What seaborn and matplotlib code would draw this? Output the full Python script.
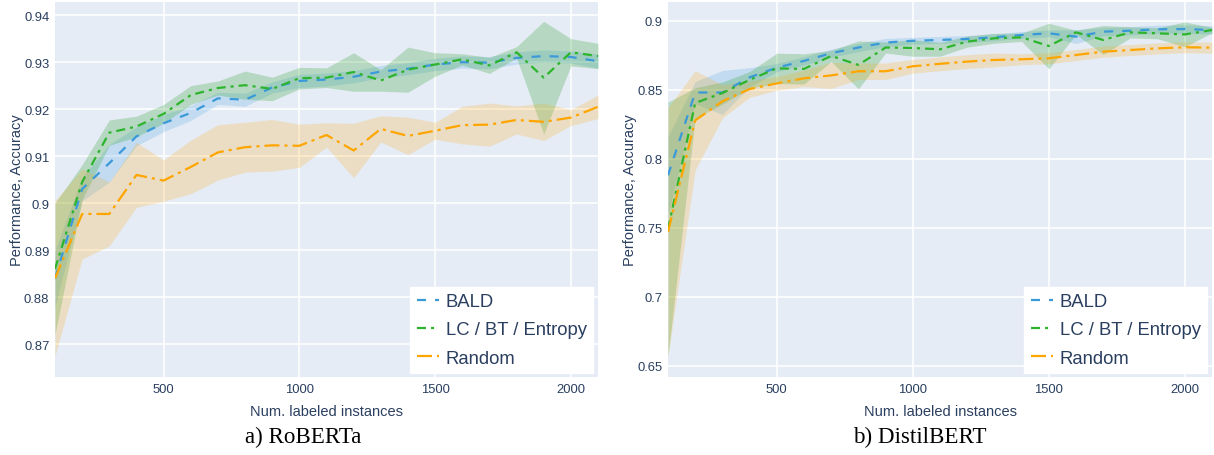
import matplotlib
matplotlib.use("Agg")
import matplotlib.pyplot as plt
import numpy as np
import pandas as pd
import seaborn as sns

# ---- data -------------------------------------------------------------
labeled = [100, 200, 300, 400, 500, 600, 700, 800, 900, 1000, 1100,
           1200, 1300, 1400, 1500, 1600, 1700, 1800, 1900, 2000, 2100]

strategies = ["BALD", "LC / BT / Entropy", "Random"]

# RoBERTa: mean accuracy and standard deviation
bald_roberta = [0.884, 0.903, 0.9085, 0.9142, 0.917, 0.9192, 0.9223, 0.922, 0.9246, 0.926, 0.9263,
                0.9269, 0.928, 0.9286, 0.9295, 0.930, 0.9299, 0.9309, 0.9313, 0.9311, 0.9302]
bald_roberta_sd = [0.006, 0.0025, 0.004, 0.002, 0.0018, 0.0016, 0.0013, 0.0014, 0.0012, 0.0014, 0.0014,
                   0.0013, 0.0013, 0.0013, 0.0013, 0.0013, 0.0013, 0.0013, 0.0013, 0.0013, 0.0015]
lc_roberta = [0.886, 0.9045, 0.915, 0.9163, 0.919, 0.923, 0.9245, 0.9251, 0.9243, 0.9266, 0.9267,
              0.9279, 0.9261, 0.9284, 0.9295, 0.9306, 0.9293, 0.9321, 0.9267, 0.9321, 0.9313]
lc_roberta_sd = [0.014, 0.0037, 0.0027, 0.0022, 0.002, 0.002, 0.0015, 0.003, 0.0025, 0.0023, 0.0021,
                 0.0041, 0.0023, 0.0048, 0.0025, 0.0012, 0.0017, 0.0012, 0.012, 0.0029, 0.0027]
random_roberta = [0.884, 0.8977, 0.8977, 0.906, 0.9048, 0.9077, 0.9108, 0.9119, 0.9123, 0.9122, 0.9145,
                  0.9112, 0.9158, 0.9143, 0.9154, 0.9166, 0.9167, 0.9177, 0.9173, 0.9182, 0.9205]
random_roberta_sd = [0.0165, 0.0096, 0.0068, 0.0069, 0.0044, 0.0057, 0.0059, 0.0053, 0.0055, 0.0046, 0.0026,
                     0.0058, 0.0028, 0.004, 0.0018, 0.004, 0.0046, 0.003, 0.004, 0.0017, 0.0025]

# DistilBERT: mean accuracy and standard deviation
bald_distil = [0.788, 0.848, 0.848, 0.859, 0.866, 0.8709, 0.8765, 0.8806, 0.8842, 0.8855, 0.8861,
               0.8868, 0.888, 0.8897, 0.8909, 0.8885, 0.8921, 0.8928, 0.8938, 0.894, 0.8933]
bald_distil_sd = [0.028, 0.008, 0.016, 0.007, 0.003, 0.003, 0.003, 0.003, 0.003, 0.0025, 0.0025,
                  0.0025, 0.0025, 0.0025, 0.0025, 0.005, 0.003, 0.003, 0.003, 0.003, 0.003]
lc_distil = [0.749, 0.8404, 0.8476, 0.8572, 0.8655, 0.8651, 0.8745, 0.868, 0.8806, 0.8803, 0.8793,
             0.8849, 0.8873, 0.888, 0.8817, 0.8916, 0.8861, 0.8916, 0.8909, 0.8901, 0.8933]
lc_distil_sd = [0.092, 0.011, 0.008, 0.006, 0.011, 0.011, 0.004, 0.0174, 0.004, 0.006, 0.005,
                0.004, 0.0036, 0.003, 0.0165, 0.0015, 0.0105, 0.004, 0.004, 0.009, 0.002]
random_distil = [0.747, 0.8278, 0.8416, 0.8505, 0.8546, 0.8583, 0.8604, 0.8634, 0.8634, 0.867, 0.8688,
                 0.8704, 0.8716, 0.8721, 0.8728, 0.8752, 0.8776, 0.8788, 0.88, 0.8808, 0.8805]
random_distil_sd = [0.09, 0.036, 0.012, 0.006, 0.005, 0.006, 0.0095, 0.006, 0.006, 0.005, 0.005,
                    0.005, 0.005, 0.004, 0.004, 0.004, 0.004, 0.004, 0.004, 0.004, 0.004]

roberta_yticks = [0.87, 0.88, 0.89, 0.90, 0.91, 0.92, 0.93, 0.94]
distil_yticks = [0.65, 0.70, 0.75, 0.80, 0.85, 0.90]
xticks = [500, 1000, 1500, 2000]

# ---- style ------------------------------------------------------------
sns.set_theme(style="darkgrid", rc={
    "axes.facecolor": "#E5ECF6",
    "grid.color": "white",
    "grid.linewidth": 1.1,
})
plt.rcParams["font.family"] = ["Liberation Sans", "DejaVu Sans"]
plt.rcParams["lines.scale_dashes"] = False

TEXT = "#2a3f5f"
palette = {"BALD": "#3a9ad9", "LC / BT / Entropy": "#2cb52c", "Random": "#ffa500"}
fills = {"BALD": ("#3a9ad9", 0.2), "LC / BT / Entropy": ("#2ca02c", 0.25), "Random": ("#ffa500", 0.2)}
dashes = {"BALD": (6.5, 6.5),
          "LC / BT / Entropy": (6.5, 3.6, 2.2, 3.6),
          "Random": (10.8, 3.6, 2.2, 3.6)}

fig = plt.figure(figsize=(12.14, 4.56), dpi=100)
ax_l = fig.add_axes([55 / 1214, 1 - 378 / 456, 543 / 1214, 375 / 456])
ax_r = fig.add_axes([668 / 1214, 1 - 378 / 456, 544 / 1214, 375 / 456])


def fmt(v):
    return f"{v:.2f}".rstrip("0")


def panel(ax, series, ylim, yticks, caption_x, caption):
    frames = []
    for name, (mean, sd) in zip(strategies, series):
        frames.append(pd.DataFrame({"labeled": labeled, "acc": mean, "strategy": name}))
    df = pd.concat(frames, ignore_index=True)

    # shaded +/- one standard deviation band per strategy
    for name, (mean, sd) in zip(strategies, series):
        m = np.asarray(mean)
        s = np.asarray(sd)
        c, a = fills[name]
        ax.fill_between(labeled, m - s, m + s, color=c, alpha=a, lw=0, zorder=1)

    sns.lineplot(data=df, x="labeled", y="acc", hue="strategy", style="strategy",
                 hue_order=strategies, style_order=strategies,
                 palette=palette, dashes=dashes, linewidth=1.6,
                 errorbar=None, ax=ax, zorder=3)

    ax.set_xlim(100, 2100)
    ax.set_ylim(*ylim)
    ax.set_xticks(xticks)
    ax.set_xticklabels([str(t) for t in xticks])
    ax.set_yticks(yticks)
    ax.set_yticklabels([fmt(t) for t in yticks])
    ax.tick_params(axis="both", length=0, labelsize=9.4, labelcolor=TEXT, pad=4)
    ax.set_xlabel("Num. labeled instances", fontsize=10.5, color=TEXT, labelpad=6.5)
    ax.set_ylabel("Performance, Accuracy", fontsize=10.5, color=TEXT, labelpad=0)
    for sp in ax.spines.values():
        sp.set_visible(False)

    handles, labels = ax.get_legend_handles_labels()
    leg = ax.legend(handles, labels, loc="lower right",
                    bbox_to_anchor=(1 - 5 / 543, 4 / 375), borderaxespad=0,
                    frameon=True, fancybox=False, framealpha=1, edgecolor="white",
                    facecolor="white", fontsize=13.3, handlelength=1.2,
                    handletextpad=0.35, labelspacing=0.6, borderpad=0.35)
    for t in leg.get_texts():
        t.set_color(TEXT)
    for ln in leg.get_lines():
        ln.set_linewidth(1.6)

    fig.text(caption_x, 1 - 437 / 456, caption, ha="center", va="center",
             fontsize=16.6, family="Liberation Serif", color="black")


panel(ax_l,
      [(bald_roberta, bald_roberta_sd), (lc_roberta, lc_roberta_sd), (random_roberta, random_roberta_sd)],
      (0.863, 0.9428), roberta_yticks, 303 / 1214, "a) RoBERTa")
panel(ax_r,
      [(bald_distil, bald_distil_sd), (lc_distil, lc_distil_sd), (random_distil, random_distil_sd)],
      (0.6418, 0.9136), distil_yticks, 920 / 1214, "b) DistilBERT")

fig.savefig("out.png", dpi=100)
